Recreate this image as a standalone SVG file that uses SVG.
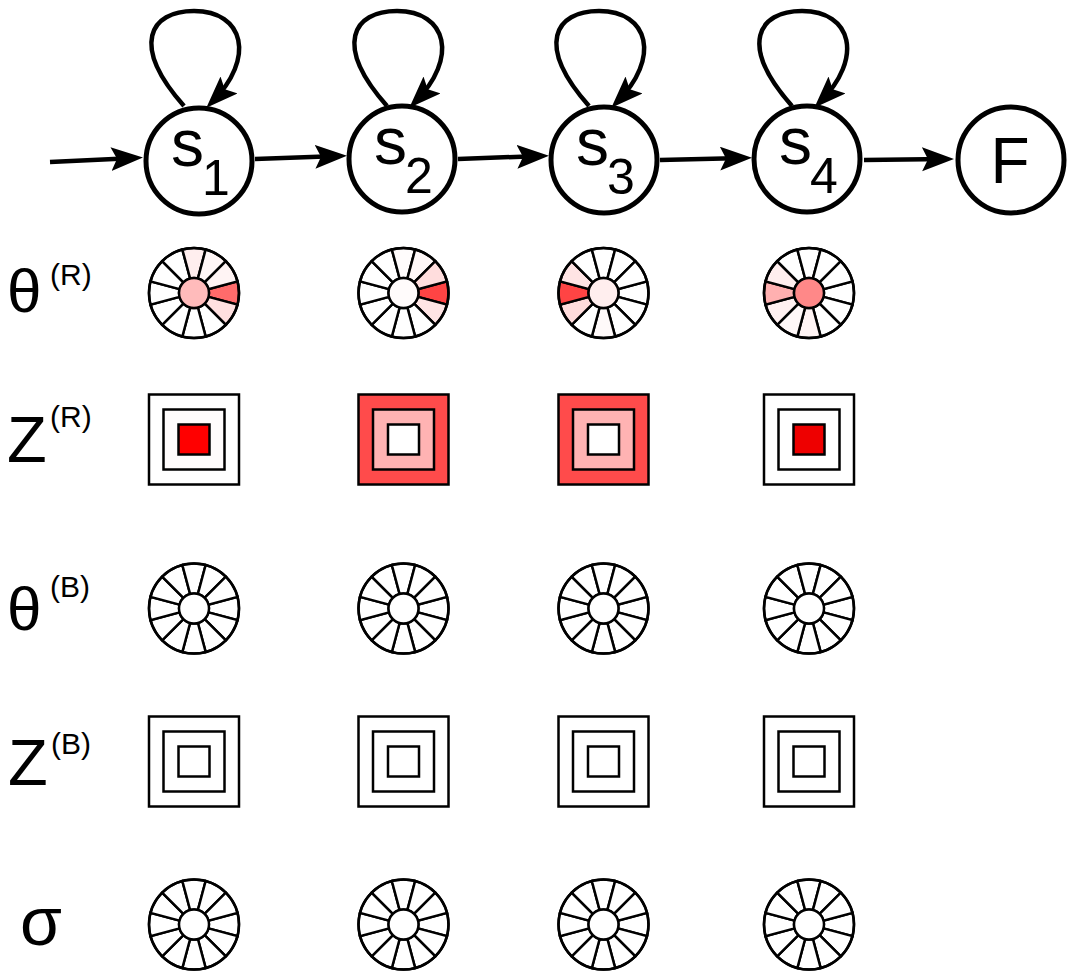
<svg xmlns="http://www.w3.org/2000/svg" xmlns:xlink="http://www.w3.org/1999/xlink" width="1068" height="973" viewBox="0 0 1068 973">
<style>
.st{fill:#fff;stroke:#000;stroke-width:5}
.ln{fill:none;stroke:#000;stroke-width:4.5}
.wl{stroke:#000;stroke-width:2.5}
.sq{stroke:#000;stroke-width:2.5}
.t{font-family:"Liberation Sans",Arial,sans-serif;fill:#000}
</style>
<defs>
<marker id="ah" markerUnits="userSpaceOnUse" markerWidth="34" markerHeight="26" refX="24" refY="12" orient="auto">
<path d="M0 0 L32 12 L0 24 L6 12 Z" fill="#000"/>
</marker>
<path id="seg" d="M14.49 -3.88 L43.47 -11.65 A45 45 0 0 1 43.47 11.65 L14.49 3.88 A15 15 0 0 0 14.49 -3.88 Z"/>
</defs>
<rect width="1068" height="973" fill="#fff"/>

<g id="connectors">
<line class="ln" x1="50" y1="162" x2="135" y2="158" marker-end="url(#ah)"/>
<line class="ln" x1="255" y1="159" x2="339" y2="156" marker-end="url(#ah)"/>
<line class="ln" x1="458" y1="159" x2="541" y2="156" marker-end="url(#ah)"/>
<line class="ln" x1="660" y1="160" x2="744" y2="158" marker-end="url(#ah)"/>
<line class="ln" x1="864" y1="160" x2="946" y2="159" marker-end="url(#ah)"/>
<path class="ln" d="M184 106 C130 45 150 11 194 11 C244 11 256 58 212 102" marker-end="url(#ah)"/>
<path class="ln" d="M387 106 C333 45 353 11 397 11 C447 11 459 58 415 102" marker-end="url(#ah)"/>
<path class="ln" d="M589 106 C535 45 555 11 599 11 C649 11 661 58 617 102" marker-end="url(#ah)"/>
<path class="ln" d="M792 106 C738 45 758 11 802 11 C852 11 864 58 820 102" marker-end="url(#ah)"/>
</g>

<g id="s1"><circle class="st" cx="199" cy="161" r="53"/><text class="t" x="171" y="166" font-size="66">s</text><text class="t" x="202" y="195" font-size="50">1</text></g>
<g id="s2"><circle class="st" cx="402" cy="159" r="53"/><text class="t" x="374" y="164" font-size="66">s</text><text class="t" x="405" y="193" font-size="50">2</text></g>
<g id="s3"><circle class="st" cx="604" cy="160" r="53"/><text class="t" x="576" y="165" font-size="66">s</text><text class="t" x="607" y="194" font-size="50">3</text></g>
<g id="s4"><circle class="st" cx="807" cy="159" r="53"/><text class="t" x="779" y="164" font-size="66">s</text><text class="t" x="810" y="193" font-size="50">4</text></g>
<g id="F"><circle class="st" cx="1011" cy="160" r="53"/><text class="t" x="1010" y="183" font-size="64" text-anchor="middle">F</text></g>

<g id="labels">
<text class="t" x="7" y="312" font-size="62">θ</text><text class="t" x="50" y="285" font-size="30">(R)</text>
<text class="t" x="7" y="462" font-size="65">Z</text><text class="t" x="50" y="427" font-size="30">(R)</text>
<text class="t" x="7" y="630" font-size="62">θ</text><text class="t" x="50" y="597" font-size="30">(B)</text>
<text class="t" x="8" y="785" font-size="65">Z</text><text class="t" x="51" y="754" font-size="30">(B)</text>
<text class="t" x="20" y="945" font-size="68">σ</text>
</g>

<!-- theta R wheels -->
<g id="thetaR1" class="wl" transform="translate(194,293)">
<use href="#seg" transform="rotate(0)" fill="#FF6B6B"/><use href="#seg" transform="rotate(30)" fill="#FFE0E0"/><use href="#seg" transform="rotate(60)" fill="#fff"/><use href="#seg" transform="rotate(90)" fill="#fff"/><use href="#seg" transform="rotate(120)" fill="#fff"/><use href="#seg" transform="rotate(150)" fill="#fff"/><use href="#seg" transform="rotate(180)" fill="#fff"/><use href="#seg" transform="rotate(210)" fill="#fff"/><use href="#seg" transform="rotate(240)" fill="#fff"/><use href="#seg" transform="rotate(270)" fill="#FFEEEE"/><use href="#seg" transform="rotate(300)" fill="#FFF6F6"/><use href="#seg" transform="rotate(330)" fill="#FFF4F4"/>
<circle r="15" fill="#FFBBBB"/><circle r="45" fill="none"/>
</g>
<g id="thetaR2" class="wl" transform="translate(403.5,293)">
<use href="#seg" transform="rotate(0)" fill="#FF4444"/><use href="#seg" transform="rotate(30)" fill="#FFE4E4"/><use href="#seg" transform="rotate(60)" fill="#fff"/><use href="#seg" transform="rotate(90)" fill="#fff"/><use href="#seg" transform="rotate(120)" fill="#fff"/><use href="#seg" transform="rotate(150)" fill="#fff"/><use href="#seg" transform="rotate(180)" fill="#fff"/><use href="#seg" transform="rotate(210)" fill="#fff"/><use href="#seg" transform="rotate(240)" fill="#fff"/><use href="#seg" transform="rotate(270)" fill="#FFFCFC"/><use href="#seg" transform="rotate(300)" fill="#FFF8F8"/><use href="#seg" transform="rotate(330)" fill="#FFDDDD"/>
<circle r="15" fill="#FFFBFB"/><circle r="45" fill="none"/>
</g>
<g id="thetaR3" class="wl" transform="translate(603.5,293)">
<use href="#seg" transform="rotate(0)" fill="#fff"/><use href="#seg" transform="rotate(30)" fill="#fff"/><use href="#seg" transform="rotate(60)" fill="#fff"/><use href="#seg" transform="rotate(90)" fill="#FFFAFA"/><use href="#seg" transform="rotate(120)" fill="#fff"/><use href="#seg" transform="rotate(150)" fill="#FFDCDC"/><use href="#seg" transform="rotate(180)" fill="#FF4444"/><use href="#seg" transform="rotate(210)" fill="#FFE4E4"/><use href="#seg" transform="rotate(240)" fill="#fff"/><use href="#seg" transform="rotate(270)" fill="#fff"/><use href="#seg" transform="rotate(300)" fill="#fff"/><use href="#seg" transform="rotate(330)" fill="#fff"/>
<circle r="15" fill="#FFEEEE"/><circle r="45" fill="none"/>
</g>
<g id="thetaR4" class="wl" transform="translate(809,293)">
<use href="#seg" transform="rotate(0)" fill="#fff"/><use href="#seg" transform="rotate(30)" fill="#fff"/><use href="#seg" transform="rotate(60)" fill="#fff"/><use href="#seg" transform="rotate(90)" fill="#FFF4F4"/><use href="#seg" transform="rotate(120)" fill="#FFF8F8"/><use href="#seg" transform="rotate(150)" fill="#FFF0F0"/><use href="#seg" transform="rotate(180)" fill="#FFB0B0"/><use href="#seg" transform="rotate(210)" fill="#FFEEEE"/><use href="#seg" transform="rotate(240)" fill="#fff"/><use href="#seg" transform="rotate(270)" fill="#fff"/><use href="#seg" transform="rotate(300)" fill="#fff"/><use href="#seg" transform="rotate(330)" fill="#fff"/>
<circle r="15" fill="#FF8888"/><circle r="45" fill="none"/>
</g>

<!-- Z R squares -->
<g id="ZR1" class="sq" transform="translate(194,439.5)"><rect x="-45" y="-45" width="90" height="90" fill="#fff"/><rect x="-30.5" y="-30" width="61" height="60" fill="#FFFCFC"/><rect x="-15.5" y="-15" width="31" height="30" fill="#FF0000"/></g>
<g id="ZR2" class="sq" transform="translate(403.5,439.5)"><rect x="-45" y="-45" width="90" height="90" fill="#FF4B4B"/><rect x="-30.5" y="-30" width="61" height="60" fill="#FFB3B3"/><rect x="-15.5" y="-15" width="31" height="30" fill="#fff"/></g>
<g id="ZR3" class="sq" transform="translate(603.5,439.5)"><rect x="-45" y="-45" width="90" height="90" fill="#FF4B4B"/><rect x="-30.5" y="-30" width="61" height="60" fill="#FFB3B3"/><rect x="-15.5" y="-15" width="31" height="30" fill="#fff"/></g>
<g id="ZR4" class="sq" transform="translate(809,439.5)"><rect x="-45" y="-45" width="90" height="90" fill="#fff"/><rect x="-30.5" y="-30" width="61" height="60" fill="#fff"/><rect x="-15.5" y="-15" width="31" height="30" fill="#EE0000"/></g>

<!-- theta B wheels -->
<g id="thetaB1" class="wl" fill="#fff" transform="translate(194,608.5)">
<use href="#seg"/><use href="#seg" transform="rotate(30)"/><use href="#seg" transform="rotate(60)"/><use href="#seg" transform="rotate(90)"/><use href="#seg" transform="rotate(120)"/><use href="#seg" transform="rotate(150)"/><use href="#seg" transform="rotate(180)"/><use href="#seg" transform="rotate(210)"/><use href="#seg" transform="rotate(240)"/><use href="#seg" transform="rotate(270)"/><use href="#seg" transform="rotate(300)"/><use href="#seg" transform="rotate(330)"/>
<circle r="15"/><circle r="45" fill="none"/>
</g>
<g id="thetaB2" class="wl" fill="#fff" transform="translate(403.5,608.5)">
<use href="#seg"/><use href="#seg" transform="rotate(30)"/><use href="#seg" transform="rotate(60)"/><use href="#seg" transform="rotate(90)"/><use href="#seg" transform="rotate(120)"/><use href="#seg" transform="rotate(150)"/><use href="#seg" transform="rotate(180)"/><use href="#seg" transform="rotate(210)"/><use href="#seg" transform="rotate(240)"/><use href="#seg" transform="rotate(270)"/><use href="#seg" transform="rotate(300)"/><use href="#seg" transform="rotate(330)"/>
<circle r="15"/><circle r="45" fill="none"/>
</g>
<g id="thetaB3" class="wl" fill="#fff" transform="translate(603.5,608.5)">
<use href="#seg"/><use href="#seg" transform="rotate(30)"/><use href="#seg" transform="rotate(60)"/><use href="#seg" transform="rotate(90)"/><use href="#seg" transform="rotate(120)"/><use href="#seg" transform="rotate(150)"/><use href="#seg" transform="rotate(180)"/><use href="#seg" transform="rotate(210)"/><use href="#seg" transform="rotate(240)"/><use href="#seg" transform="rotate(270)"/><use href="#seg" transform="rotate(300)"/><use href="#seg" transform="rotate(330)"/>
<circle r="15"/><circle r="45" fill="none"/>
</g>
<g id="thetaB4" class="wl" fill="#fff" transform="translate(809,608.5)">
<use href="#seg"/><use href="#seg" transform="rotate(30)"/><use href="#seg" transform="rotate(60)"/><use href="#seg" transform="rotate(90)"/><use href="#seg" transform="rotate(120)"/><use href="#seg" transform="rotate(150)"/><use href="#seg" transform="rotate(180)"/><use href="#seg" transform="rotate(210)"/><use href="#seg" transform="rotate(240)"/><use href="#seg" transform="rotate(270)"/><use href="#seg" transform="rotate(300)"/><use href="#seg" transform="rotate(330)"/>
<circle r="15"/><circle r="45" fill="none"/>
</g>

<!-- Z B squares -->
<g id="ZB1" class="sq" fill="#fff" transform="translate(194,761.5)"><rect x="-45" y="-45" width="90" height="90"/><rect x="-30.5" y="-30" width="61" height="60"/><rect x="-15.5" y="-15" width="31" height="30"/></g>
<g id="ZB2" class="sq" fill="#fff" transform="translate(403.5,761.5)"><rect x="-45" y="-45" width="90" height="90"/><rect x="-30.5" y="-30" width="61" height="60"/><rect x="-15.5" y="-15" width="31" height="30"/></g>
<g id="ZB3" class="sq" fill="#fff" transform="translate(603.5,761.5)"><rect x="-45" y="-45" width="90" height="90"/><rect x="-30.5" y="-30" width="61" height="60"/><rect x="-15.5" y="-15" width="31" height="30"/></g>
<g id="ZB4" class="sq" fill="#fff" transform="translate(809,761.5)"><rect x="-45" y="-45" width="90" height="90"/><rect x="-30.5" y="-30" width="61" height="60"/><rect x="-15.5" y="-15" width="31" height="30"/></g>

<!-- sigma wheels -->
<g id="sigma1" class="wl" fill="#fff" transform="translate(194,924.5)">
<use href="#seg"/><use href="#seg" transform="rotate(30)"/><use href="#seg" transform="rotate(60)"/><use href="#seg" transform="rotate(90)"/><use href="#seg" transform="rotate(120)"/><use href="#seg" transform="rotate(150)"/><use href="#seg" transform="rotate(180)"/><use href="#seg" transform="rotate(210)"/><use href="#seg" transform="rotate(240)"/><use href="#seg" transform="rotate(270)"/><use href="#seg" transform="rotate(300)"/><use href="#seg" transform="rotate(330)"/>
<circle r="15"/><circle r="45" fill="none"/>
</g>
<g id="sigma2" class="wl" fill="#fff" transform="translate(403.5,924.5)">
<use href="#seg"/><use href="#seg" transform="rotate(30)"/><use href="#seg" transform="rotate(60)"/><use href="#seg" transform="rotate(90)"/><use href="#seg" transform="rotate(120)"/><use href="#seg" transform="rotate(150)"/><use href="#seg" transform="rotate(180)"/><use href="#seg" transform="rotate(210)"/><use href="#seg" transform="rotate(240)"/><use href="#seg" transform="rotate(270)"/><use href="#seg" transform="rotate(300)"/><use href="#seg" transform="rotate(330)"/>
<circle r="15"/><circle r="45" fill="none"/>
</g>
<g id="sigma3" class="wl" fill="#fff" transform="translate(603.5,924.5)">
<use href="#seg"/><use href="#seg" transform="rotate(30)"/><use href="#seg" transform="rotate(60)"/><use href="#seg" transform="rotate(90)"/><use href="#seg" transform="rotate(120)"/><use href="#seg" transform="rotate(150)"/><use href="#seg" transform="rotate(180)"/><use href="#seg" transform="rotate(210)"/><use href="#seg" transform="rotate(240)"/><use href="#seg" transform="rotate(270)"/><use href="#seg" transform="rotate(300)"/><use href="#seg" transform="rotate(330)"/>
<circle r="15"/><circle r="45" fill="none"/>
</g>
<g id="sigma4" class="wl" fill="#fff" transform="translate(809,924.5)">
<use href="#seg"/><use href="#seg" transform="rotate(30)"/><use href="#seg" transform="rotate(60)"/><use href="#seg" transform="rotate(90)"/><use href="#seg" transform="rotate(120)"/><use href="#seg" transform="rotate(150)"/><use href="#seg" transform="rotate(180)"/><use href="#seg" transform="rotate(210)"/><use href="#seg" transform="rotate(240)"/><use href="#seg" transform="rotate(270)"/><use href="#seg" transform="rotate(300)"/><use href="#seg" transform="rotate(330)"/>
<circle r="15"/><circle r="45" fill="none"/>
</g>
</svg>
